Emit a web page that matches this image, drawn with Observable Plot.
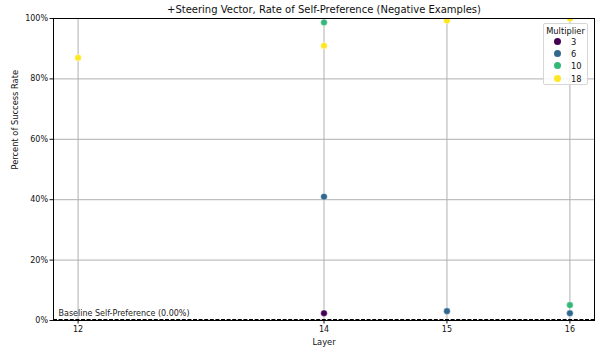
<!DOCTYPE html>
<html><head><meta charset="utf-8">
<script src="https://cdn.jsdelivr.net/npm/d3@7"></script>
<script src="https://cdn.jsdelivr.net/npm/@observablehq/plot@0.6"></script>
<style>
body{margin:0;background:#fff;font-family:"DejaVu Sans",sans-serif;}
#wrap{position:relative;width:597px;height:349px;}
#legend{position:absolute;left:543px;top:23px;width:45px;height:62px;border:1px solid #d6d6d6;border-radius:2px;background:rgba(255,255,255,0.85);font-size:8.3px;color:#111;box-sizing:border-box;}
#legend .ttl{position:absolute;left:0;width:100%;text-align:center;top:2px;}
#legend .row{position:absolute;left:0;width:100%;height:10px;}
#legend .sw{position:absolute;left:10px;top:1px;width:7px;height:7px;border-radius:50%;}
#legend .lb{position:absolute;left:27px;top:0;}
</style>
</head><body>
<div id="wrap"></div>
<script>
const title = "+Steering Vector, Rate of Self-Preference (Negative Examples)";
const layers = [12, 14, 14, 14, 14, 15, 15, 16, 16, 16];
const multipliers = [18, 10, 18, 6, 3, 18, 6, 18, 10, 6];
const rates = [87, 98.7, 91, 41, 2.4, 99.3, 3.1, 100, 5.1, 2.4];
const multiplierLevels = [3, 6, 10, 18];
const multiplierColors = ["#440154", "#31688e", "#35b779", "#fde725"];
const xTicks = [12, 14, 15, 16];
const yTicks = [0, 20, 40, 60, 80, 100];
const baselineValue = 0;
const baselineLabel = "Baseline Self-Preference (0.00%)";

const data = layers.map((l, i) => ({layer: l, mult: multipliers[i], rate: rates[i]}));

const plot = Plot.plot({
  width: 597, height: 349,
  marginLeft: 53, marginRight: 3, marginTop: 18, marginBottom: 29,
  style: {fontFamily: "DejaVu Sans, sans-serif", fontSize: "8px", color: "#111", background: "#fff"},
  x: {domain: [11.8, 16.2], ticks: xTicks, tickFormat: d => String(d), label: null, tickSize: 3.5},
  y: {domain: [0, 100], ticks: yTicks, tickFormat: d => d + "%", label: null, tickSize: 3.5},
  color: {type: "ordinal", domain: multiplierLevels, range: multiplierColors},
  marks: [
    Plot.gridX(xTicks, {stroke: "#b0b0b0", strokeOpacity: 1, strokeWidth: 1}),
    Plot.gridY(yTicks, {stroke: "#b0b0b0", strokeOpacity: 1, strokeWidth: 1}),
    Plot.ruleY([baselineValue], {stroke: "#000", strokeWidth: 1, strokeDasharray: "4,1.6", dy: -1}),
    Plot.text([baselineLabel], {text: d => d, frameAnchor: "bottom-left", textAnchor: "start", lineAnchor: "bottom", dx: 5, dy: -5, fontSize: 8, fill: "#222"}),
    Plot.dot(data, {x: "layer", y: "rate", fill: "mult", r: 3.3, stroke: "#fff", strokeWidth: 0.4, clip: true}),
    Plot.frame({stroke: "#000", strokeWidth: 1}),
    Plot.axisX({ticks: xTicks, tickSize: 3.5, tickPadding: 2, tickFormat: d => String(d), fontSize: 8, label: null}),
    Plot.axisY({ticks: yTicks, tickSize: 3.5, tickPadding: 2, tickFormat: d => d + "%", fontSize: 8, label: null}),
    Plot.text(["Layer"], {text: d => d, frameAnchor: "bottom", dy: 24, fontSize: 8.3, fill: "#111"}),
    Plot.text(["Percent of Success Rate"], {text: d => d, frameAnchor: "left", dx: -38, rotate: -90, fontSize: 8.3, fill: "#111"}),
    Plot.text([title], {text: d => d, frameAnchor: "top", lineAnchor: "middle", dy: -9, fontSize: 10, fill: "#111"})
  ]
});
document.getElementById("wrap").appendChild(plot);

const leg = d3.select("#wrap").append("div").attr("id", "legend");
leg.append("div").attr("class", "ttl").text("Multiplier");
multiplierLevels.forEach((m, i) => {
  const row = leg.append("div").attr("class", "row").style("top", (13 + i * 12.2) + "px");
  row.append("div").attr("class", "sw").style("background", multiplierColors[i]);
  row.append("div").attr("class", "lb").text(m);
});
</script>
</body></html>
